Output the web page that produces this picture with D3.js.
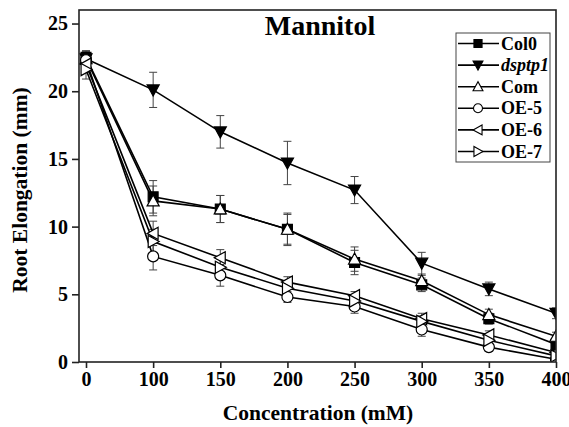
<!DOCTYPE html>
<html><head><meta charset="utf-8">
<script src="https://cdn.jsdelivr.net/npm/d3@7"></script>
<style>
html,body{margin:0;padding:0;background:#fff;}
svg{display:block;}
text{font-family:"Liberation Serif","Times New Roman",serif;font-weight:bold;fill:#000;}
</style></head><body>
<svg id="c" width="569" height="427"></svg>
<script>
const concentrations = ["0","100","150","200","250","300","350","400"];
const yTicks = [0,5,10,15,20,25];
const seriesNames = ["Col0","dsptp1","Com","OE-5","OE-6","OE-7"];
const col0      = [22.5, 12.2, 11.3, 9.8, 7.35, 5.7, 3.2, 1.3];
const col0Err   = [0.5, 1.2, 1.0, 1.2, 0.9, 0.5, 0.4, 0.3];
const dsptp1    = [22.4, 20.1, 17.0, 14.7, 12.7, 7.3, 5.4, 3.6];
const dsptp1Err = [0.5, 1.3, 1.2, 1.6, 1.0, 0.8, 0.5, 0.4];
const com       = [22.4, 11.9, 11.3, 9.8, 7.6, 6.0, 3.5, 1.9];
const comErr    = [0.5, 1.1, 1.0, 1.1, 0.9, 0.4, 0.4, 0.3];
const oe5       = [22.3, 7.8, 6.4, 4.8, 4.1, 2.4, 1.1, 0.2];
const oe5Err    = [0.6, 1.0, 0.8, 0.4, 0.5, 0.5, 0.3, 0.2];
const oe6       = [22.0, 9.5, 7.7, 5.9, 4.9, 3.2, 2.0, 0.7];
const oe6Err    = [0.6, 0.9, 0.6, 0.4, 0.3, 0.4, 0.3, 0.2];
const oe7       = [21.6, 8.9, 7.0, 5.45, 4.5, 3.0, 1.6, 0.45];
const oe7Err    = [0.7, 0.9, 0.6, 0.4, 0.3, 0.4, 0.3, 0.2];

const series = [
  {name:"Col0", vals:col0, err:col0Err, shape:"square", fill:"#000"},
  {name:"dsptp1", vals:dsptp1, err:dsptp1Err, shape:"down", fill:"#000", italic:true},
  {name:"Com", vals:com, err:comErr, shape:"up", fill:"#fff"},
  {name:"OE-5", vals:oe5, err:oe5Err, shape:"circle", fill:"#fff"},
  {name:"OE-6", vals:oe6, err:oe6Err, shape:"left", fill:"#fff"},
  {name:"OE-7", vals:oe7, err:oe7Err, shape:"right", fill:"#fff"}
];

const L=79, R=556, T=10, B=362;
const svg = d3.select("#c");
const x = d3.scalePoint().domain(concentrations).range([86, 556]);
const y = d3.scaleLinear().domain([0, 26]).range([B, T]);

svg.append("defs").append("clipPath").attr("id","clip")
  .append("rect").attr("x",L).attr("y",T).attr("width",R-L).attr("height",B-T);

function shapePath(shape, s){
  switch(shape){
    case "square": return `M${-s*0.45},${-s*0.45}h${s*0.9}v${s*0.9}h${-s*0.9}Z`;
    case "down": return `M${-s*0.55},${-s*0.45}L${s*0.55},${-s*0.45}L0,${s*0.55}Z`;
    case "up": return `M${-s*0.55},${s*0.45}L${s*0.55},${s*0.45}L0,${-s*0.55}Z`;
    case "left": return `M${s*0.45},${-s*0.55}L${s*0.45},${s*0.55}L${-s*0.55},0Z`;
    case "right": return `M${-s*0.45},${-s*0.55}L${-s*0.45},${s*0.55}L${s*0.55},0Z`;
    case "circle": { const r=s*0.5; return `M${-r},0a${r},${r} 0 1,0 ${2*r},0a${r},${r} 0 1,0 ${-2*r},0Z`; }
  }
}

const plot = svg.append("g").attr("clip-path","url(#clip)");

// error bars
series.forEach(sr=>{
  const g = plot.append("g").attr("stroke","#444").attr("stroke-width",1);
  sr.vals.forEach((v,i)=>{
    const cx = x(concentrations[i]);
    const e = sr.err[i];
    g.append("line").attr("x1",cx).attr("x2",cx).attr("y1",y(v+e)).attr("y2",y(v-e));
    g.append("line").attr("x1",cx-4).attr("x2",cx+4).attr("y1",y(v+e)).attr("y2",y(v+e));
    g.append("line").attr("x1",cx-4).attr("x2",cx+4).attr("y1",y(v-e)).attr("y2",y(v-e));
  });
});

// lines
const line = d3.line().x((d,i)=>x(concentrations[i])).y(d=>y(d));
series.forEach(sr=>{
  plot.append("path").attr("d",line(sr.vals)).attr("fill","none")
    .attr("stroke","#000").attr("stroke-width",1.6);
});
// markers
series.forEach(sr=>{
  sr.vals.forEach((v,i)=>{
    plot.append("path").attr("d",shapePath(sr.shape,11))
      .attr("transform",`translate(${x(concentrations[i])},${y(v)})`)
      .attr("fill",sr.fill).attr("stroke","#000").attr("stroke-width",1.2);
  });
});

// frame
svg.append("rect").attr("x",L).attr("y",T).attr("width",R-L).attr("height",B-T)
  .attr("fill","none").attr("stroke","#222").attr("stroke-width",1.6);

// axes
const yAxis = svg.append("g").attr("transform",`translate(${L},0)`)
  .call(d3.axisLeft(y).tickValues(yTicks).tickSize(7).tickPadding(4));
yAxis.select(".domain").remove();
yAxis.selectAll("line").attr("stroke","#222").attr("stroke-width",1.6);
yAxis.selectAll("text").style("font-size","20px").style("font-family","Liberation Serif").style("font-weight","bold");

const xAxis = svg.append("g").attr("transform",`translate(0,${B})`)
  .call(d3.axisBottom(x).tickSize(6).tickPadding(4));
xAxis.select(".domain").remove();
xAxis.selectAll("line").attr("stroke","#222").attr("stroke-width",1.6);
xAxis.selectAll("text").style("font-size","20px").style("font-family","Liberation Serif").style("font-weight","bold");

// labels
svg.append("text").attr("x",320).attr("y",35).attr("text-anchor","middle")
  .style("font-size","28px").text("Mannitol");
svg.append("text").attr("x",318).attr("y",420).attr("text-anchor","middle")
  .style("font-size","21.5px").text("Concentration (mM)");
svg.append("text").attr("transform","translate(27,190) rotate(-90)").attr("text-anchor","middle")
  .style("font-size","21.5px").text("Root Elongation (mm)");

// legend
const lg = svg.append("g");
lg.append("rect").attr("x",456).attr("y",33).attr("width",94).attr("height",129)
  .attr("fill","#fff").attr("stroke","#444").attr("stroke-width",1);
series.forEach((sr,i)=>{
  const ly = 43.5 + i*21.6;
  lg.append("line").attr("x1",458).attr("x2",499).attr("y1",ly).attr("y2",ly)
    .attr("stroke","#000").attr("stroke-width",1.6);
  lg.append("path").attr("d",shapePath(sr.shape,9)).attr("transform",`translate(478,${ly})`)
    .attr("fill",sr.fill).attr("stroke","#000").attr("stroke-width",1.1);
  lg.append("text").attr("x",501).attr("y",ly+6).style("font-size","18px")
    .style("font-style", sr.italic ? "italic" : "normal").text(sr.name);
});
</script>
</body></html>
